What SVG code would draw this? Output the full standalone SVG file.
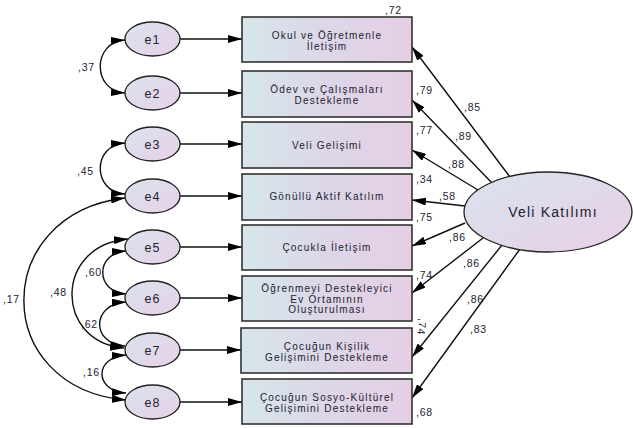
<svg xmlns="http://www.w3.org/2000/svg" width="633" height="428" viewBox="0 0 633 428">
<defs>
<linearGradient id="gb" x1="0" y1="0" x2="1" y2="0">
<stop offset="0" stop-color="#d6e6ea"/><stop offset="0.5" stop-color="#ddd6e8"/><stop offset="1" stop-color="#e6cfe6"/>
</linearGradient>
<linearGradient id="ge" x1="0" y1="0" x2="1" y2="1">
<stop offset="0" stop-color="#d9e3ee"/><stop offset="1" stop-color="#e8d0e6"/>
</linearGradient>
<marker id="ah" viewBox="0 0 14 8" refX="14" refY="4" markerWidth="14" markerHeight="8" markerUnits="userSpaceOnUse" orient="auto-start-reverse">
<path d="M0,0 L14,4 L0,8 z" fill="#000"/>
</marker>
<style>
.box{fill:url(#gb);stroke:#333;stroke-width:1.6}
.err{fill:url(#ge);stroke:#222;stroke-width:1.3}
.t{font-family:"Liberation Sans",Arial,sans-serif;fill:#222230;text-anchor:middle;font-size:10px;letter-spacing:1.2px}
.et{font-family:"Liberation Sans",Arial,sans-serif;fill:#222230;text-anchor:middle;font-size:12.5px;letter-spacing:1px}
.lt{font-family:"Liberation Sans",Arial,sans-serif;fill:#222230;text-anchor:middle;font-size:14px;letter-spacing:1.2px}
.n{font-family:"Liberation Sans",Arial,sans-serif;fill:#222230;font-size:10.5px;letter-spacing:0.8px}
.ca{fill:none;stroke:#111;stroke-width:1.4;marker-end:url(#ah)}
.cc{fill:none;stroke:#111;stroke-width:1.4;marker-start:url(#ah);marker-end:url(#ah)}
</style>
</defs>
<rect width="633" height="428" fill="#fff"/>

<g id="connectors">
<line class="ca" x1="180" y1="39" x2="242" y2="39"/>
<line class="ca" x1="180" y1="93" x2="242" y2="93"/>
<line class="ca" x1="180" y1="144" x2="242" y2="144"/>
<line class="ca" x1="180" y1="196" x2="242" y2="196"/>
<line class="ca" x1="180" y1="247" x2="242" y2="247"/>
<line class="ca" x1="180" y1="298" x2="242" y2="298"/>
<line class="ca" x1="180" y1="350" x2="241" y2="350"/>
<line class="ca" x1="180" y1="402" x2="242" y2="402"/>

<line class="ca" x1="510" y1="177" x2="412" y2="47"/>
<line class="ca" x1="492" y1="183" x2="412" y2="100"/>
<line class="ca" x1="478" y1="190" x2="412" y2="150"/>
<line class="ca" x1="465" y1="206" x2="412" y2="200"/>
<line class="ca" x1="465" y1="223" x2="412" y2="246"/>
<line class="ca" x1="483" y1="238" x2="412" y2="293"/>
<line class="ca" x1="502" y1="245" x2="412" y2="357"/>
<line class="ca" x1="520" y1="249" x2="412" y2="398"/>

<path class="cc" d="M125 40 C92 42 92 91 125 93"/>
<path class="cc" d="M125 143 C92 145 92 192 125 194"/>
<path class="cc" d="M126 251 C95 253 95 292 126 294"/>
<path class="cc" d="M126 302 C91 304 91 344 125 346"/>
<path class="cc" d="M126 355 C94 357 94 391 126 393"/>
<path class="cc" d="M128 239 C54 245 54 342 124 348"/>
<path class="cc" d="M125 198 C-10 214 -10 388 126 400"/>
</g>

<g id="e1"><ellipse class="err" cx="152.5" cy="39" rx="27.5" ry="17"/><text class="et" x="152.5" y="43.5">e1</text></g>
<g id="e2"><ellipse class="err" cx="152.5" cy="93" rx="27.5" ry="17"/><text class="et" x="152.5" y="97.5">e2</text></g>
<g id="e3"><ellipse class="err" cx="152.5" cy="144" rx="27.5" ry="17"/><text class="et" x="152.5" y="148.5">e3</text></g>
<g id="e4"><ellipse class="err" cx="152.5" cy="196" rx="27.5" ry="17"/><text class="et" x="152.5" y="200.5">e4</text></g>
<g id="e5"><ellipse class="err" cx="152.5" cy="247" rx="27.5" ry="17"/><text class="et" x="152.5" y="251.5">e5</text></g>
<g id="e6"><ellipse class="err" cx="152.5" cy="298" rx="27.5" ry="17"/><text class="et" x="152.5" y="302.5">e6</text></g>
<g id="e7"><ellipse class="err" cx="152.5" cy="350" rx="27.5" ry="17"/><text class="et" x="152.5" y="354.5">e7</text></g>
<g id="e8"><ellipse class="err" cx="152.5" cy="402" rx="27.5" ry="17"/><text class="et" x="152.5" y="406.5">e8</text></g>

<g id="b1"><rect class="box" x="242" y="17" width="170" height="45"/><text class="t" x="327" y="38.5">Okul ve Öğretmenle</text><text class="t" x="327" y="49.5">İletişim</text></g>
<g id="b2"><rect class="box" x="242" y="71" width="170" height="46"/><text class="t" x="327" y="92.5">Ödev ve Çalışmaları</text><text class="t" x="327" y="103.5">Destekleme</text></g>
<g id="b3"><rect class="box" x="242" y="122" width="170" height="46"/><text class="t" x="327" y="149">Veli Gelişimi</text></g>
<g id="b4"><rect class="box" x="242" y="174" width="170" height="46"/><text class="t" x="327" y="200">Gönüllü Aktif Katılım</text></g>
<g id="b5"><rect class="box" x="242" y="225" width="170" height="45"/><text class="t" x="327" y="251">Çocukla İletişim</text></g>
<g id="b6"><rect class="box" x="242" y="276" width="170" height="45"/><text class="t" x="327" y="292">Öğrenmeyi Destekleyici</text><text class="t" x="327" y="302.5">Ev Ortamının</text><text class="t" x="327" y="313">Oluşturulması</text></g>
<g id="b7"><rect class="box" x="241" y="328" width="171" height="45"/><text class="t" x="327" y="350">Çocuğun Kişilik</text><text class="t" x="327" y="361">Gelişimini Destekleme</text></g>
<g id="b8"><rect class="box" x="242" y="379" width="170" height="45"/><text class="t" x="327" y="401">Çocuğun Sosyo-Kültürel</text><text class="t" x="327" y="412">Gelişimini Destekleme</text></g>

<g id="veli"><ellipse class="err" cx="548" cy="212" rx="84" ry="40"/><text class="lt" x="553" y="217">Veli Katılımı</text></g>

<g id="labels">
<text class="n" x="385" y="14">,72</text>
<text class="n" x="416" y="94">,79</text>
<text class="n" x="416" y="134">,77</text>
<text class="n" x="416" y="183">,34</text>
<text class="n" x="416" y="221">,75</text>
<text class="n" x="416" y="279">,74</text>
<text class="n" x="416" y="416">,68</text>
<text class="n" transform="translate(419 318) rotate(95)">,74</text>

<text class="n" x="464" y="111">,85</text>
<text class="n" x="455" y="140">,89</text>
<text class="n" x="448" y="168">,88</text>
<text class="n" x="439" y="200">,58</text>
<text class="n" x="449" y="241">,86</text>
<text class="n" x="463" y="267">,86</text>
<text class="n" x="467" y="303">,86</text>
<text class="n" x="470" y="333">,83</text>

<text class="n" x="78" y="71">,37</text>
<text class="n" x="77" y="175">,45</text>
<text class="n" x="85" y="276">,60</text>
<text class="n" x="50" y="296">,48</text>
<text class="n" x="81" y="328">,62</text>
<text class="n" x="83" y="376">,16</text>
<text class="n" x="3" y="303">,17</text>
</g>
</svg>
